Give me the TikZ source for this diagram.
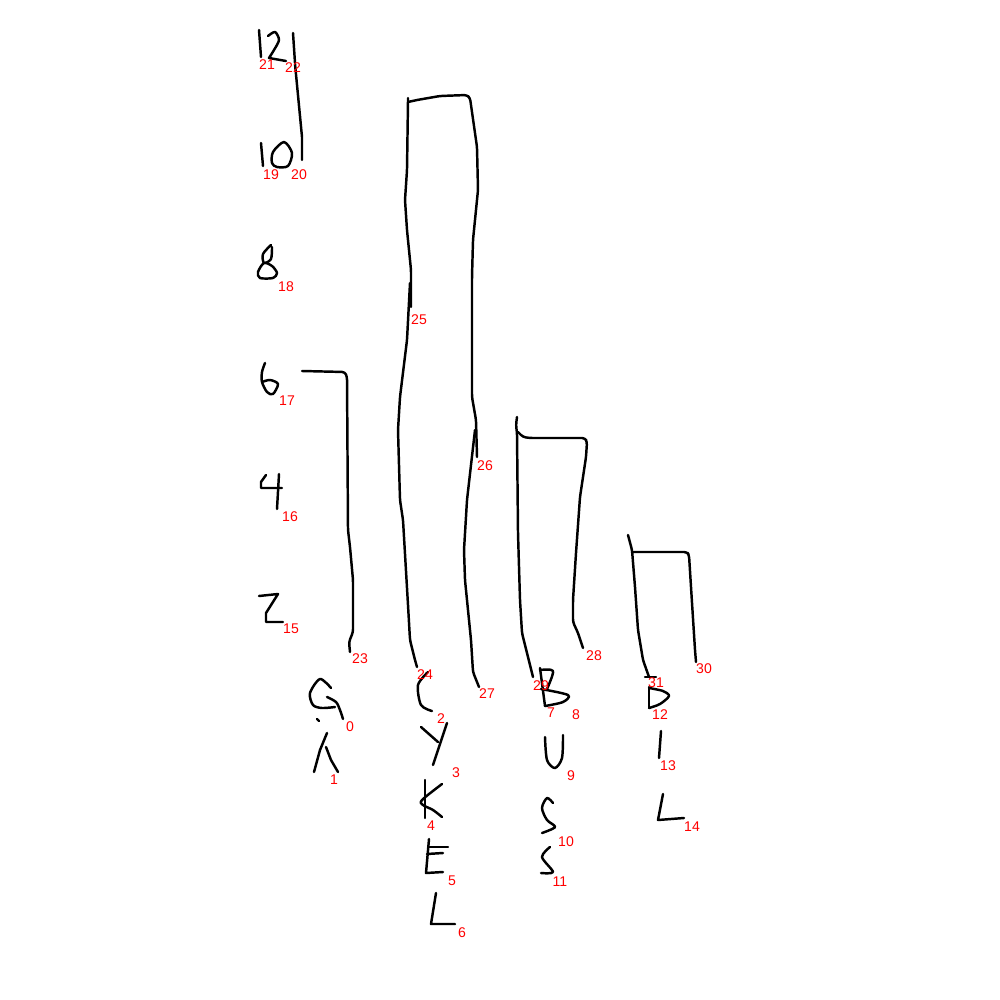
\documentclass[tikz,border=0pt]{standalone}
\usepackage{fontspec}
\newfontfamily\labelfont{Liberation Sans}
\usetikzlibrary{positioning}

\begin{document}
\begin{tikzpicture}[
    x=0.01cm, y=-0.01cm,
    pen/.style={line width=0.7pt, line cap=round, line join=round},
    bar/.style={pen, rounded corners=0.8pt},
    idx/.style={text=red, font=\labelfont\fontsize{4}{4.8}\selectfont, inner sep=0pt}
]

% Canvas
\fill[white] (0,0) rectangle (1000,1000);
\useasboundingbox (0,0) rectangle (1000,1000);

% Axis: 12
\draw[pen] (259,30) -- (261,57);
\draw[pen] plot[smooth] coordinates {(268,36) (275,32) (279,40) (274,50) (269,58)} -- (286,61);
\draw[pen] (293,33) -- (295,63);
\draw[pen] (295,64) -- (302,137) -- (302,160);

% Axis: 10
\draw[pen] (261,143) -- (263,166);
\draw[pen] plot[smooth cycle] coordinates {(284,142) (273,152) (272,163) (277,167) (288,166) (292,153)};

% Axis: 8
\draw[pen] plot[smooth] coordinates {(271,245) (263,254) (264,263) (271,259) (272,247)};
\draw[pen] plot[smooth cycle] coordinates {(264,263) (258,272) (260,278) (273,278) (277,273) (272,266)};

% Axis: 6
\draw[pen] plot[smooth] coordinates {(265,363) (262,372) (262,382) (267,392) (273,394) (278,384) (270,380) (262,382)};

% Axis: 4
\draw[pen] (266,475) -- (261,482) -- (261,488) -- (282,488);
\draw[pen] (279,474) -- (277,509);

% Axis: 2
\draw[pen] (259,596) -- (278,594) -- (266,613) -- (266,622) -- (283,622);

% Bar: GA
\draw[bar] (302,371) -- (345,372) -- (347,377) -- (348,530) -- (350,547) -- (353,580)
    -- (353,632) -- (349,642) -- (350,652);

% Bar: CYKEL
\draw[bar] (408,98) -- (408,101) -- (407,170) -- (405,200) -- (407,230) -- (411,270) -- (411,307);
\draw[bar] (408,102) -- (417,100) -- (440,96) -- (467,95) -- (470,98) -- (477,147)
    -- (478,190) -- (473,240) -- (472,277) -- (472,397) -- (476,420) -- (477,457);
\draw[bar] (410,283) -- (407,340) -- (400,397) -- (398,430) -- (400,500) -- (403,520)
    -- (408,605) -- (410,640) -- (415,660) -- (417,667);
\draw[bar] (475,430) -- (467,500) -- (464,550) -- (465,580) -- (468,610) -- (471,640)
    -- (473,672) -- (479,687);

% Bar: BUSS
\draw[bar] (517,417) -- (516,425) -- (517,433) -- (518,533) -- (520,600) -- (522,633)
    -- (527,653) -- (533,677);
\draw[bar] (518,432) -- (523,437) -- (530,438) -- (585,438) -- (587,442) -- (586,457)
    -- (580,497) -- (576,553) -- (573,600) -- (573,622) -- (578,633) -- (583,648);

% Bar: BIL
\draw[bar] (628,535) -- (632,550) -- (635,587) -- (638,630) -- (643,660) -- (649,677);
\draw[pen] (645,677) -- (656,677);
\draw[bar] (632,552) -- (687,552) -- (689,555) -- (691,587) -- (695,650) -- (696,662);

% Word: GA
\draw[pen] plot[smooth] coordinates {(331,688) (320,679) (310,693) (313,705) (322,708) (335,707)};
\draw[pen] plot[smooth] coordinates {(327,697) (336,702) (340,710) (343,719)};
\draw[pen] (317,719) -- (319,721);
\draw[pen] (327,733) -- (320,750) -- (314,772);
\draw[pen] (326,747) -- (331,760) -- (338,772);

% Word: CYKEL
\draw[pen] plot[smooth] coordinates {(428,672) (418,685) (421,705) (432,711)};
\draw[pen] (421,727) -- (438,742);
\draw[pen] (447,723) -- (433,765);
\draw[pen] (425,780) -- (425,818);
\draw[pen] plot[smooth] coordinates {(442,784) (422,800) (423,805) (433,810) (442,817)};
\draw[pen] (429,839) -- (426,873) -- (443,872);
\draw[pen] (428,847) -- (448,847);
\draw[pen] (427,854) -- (443,853);
\draw[pen] (436,893) -- (431,924) -- (455,924);

% Word: BUSS
\draw[pen] (540,668) -- (545,706);
\draw[pen] plot[smooth] coordinates {(540,670) (553,671) (547,689)};
\draw[pen] plot[smooth] coordinates {(541,689) (568,695) (563,702) (545,706)};
\draw[pen] plot[smooth] coordinates {(545,737) (547,760) (555,768) (562,758) (563,735)};
\draw[pen] plot[smooth] coordinates {(553,803) (547,798) (542,808) (547,820) (555,827) (542,833)};
\draw[pen] plot[smooth] coordinates {(550,847) (542,857) (553,872) (541,873)};

% Word: BIL
\draw[pen] (649,687) -- (649,708);
\draw[pen] plot[smooth] coordinates {(649,688) (663,691) (669,696) (660,704) (649,708)};
\draw[pen] (661,731) -- (659,758);
\draw[pen] (663,794) -- (658,820) -- (684,818);

% Stroke indices
\node[idx] (l0) at (350,727) {0};
\node[idx] (l1) at (334,780) {1};
\node[idx] (l2) at (441,719) {2};
\node[idx] (l3) at (456,773) {3};
\node[idx] (l4) at (431,826) {4};
\node[idx] (l5) at (452,881) {5};
\node[idx] (l6) at (462,933) {6};
\node[idx] (l7) at (551,713) {7};
\node[idx] (l8) at (576,715) {8};
\node[idx] (l9) at (571,776) {9};
\node[idx] (l10) at (566,842) {10};
\node[idx] (l11) at (560,882) {11};
\node[idx] (l12) at (660,715) {12};
\node[idx] (l13) at (668,766) {13};
\node[idx] (l14) at (692,827) {14};
\node[idx] (l15) at (291,629) {15};
\node[idx] (l16) at (290,517) {16};
\node[idx] (l17) at (287,401) {17};
\node[idx] (l18) at (286,287) {18};
\node[idx] (l19) at (271,175) {19};
\node[idx] (l20) at (299,175) {20};
\node[idx] (l21) at (267,65) {21};
\node[idx] (l22) at (293,68) {22};
\node[idx] (l23) at (360,659) {23};
\node[idx] (l24) at (425,675) {24};
\node[idx] (l25) at (419,320) {25};
\node[idx] (l26) at (485,466) {26};
\node[idx] (l27) at (487,694) {27};
\node[idx] (l28) at (594,656) {28};
\node[idx] (l29) at (541,686) {29};
\node[idx] (l30) at (704,669) {30};
\node[idx] (l31) at (656,683) {31};

\end{tikzpicture}
\end{document}
